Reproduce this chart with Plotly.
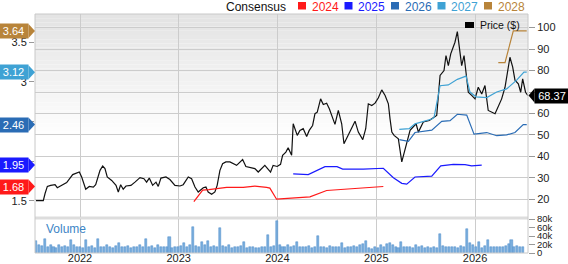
import pandas as pd
import plotly.graph_objects as go

# ---------------- data ----------------
price_t = [2021.554, 2021.628, 2021.646, 2021.669, 2021.703, 2021.747, 2021.770, 2021.815, 2021.865, 2021.926,
           2021.949, 2021.993, 2022.017, 2022.058, 2022.094, 2022.135, 2022.159, 2022.203, 2022.230, 2022.253,
           2022.276, 2022.321, 2022.365, 2022.388, 2022.412, 2022.438, 2022.466, 2022.516, 2022.557, 2022.608,
           2022.648, 2022.675, 2022.702, 2022.736, 2022.770, 2022.793, 2022.820, 2022.871, 2022.911, 2022.962,
           2023.013, 2023.046, 2023.097, 2023.131, 2023.165, 2023.198, 2023.249, 2023.276, 2023.299, 2023.334,
           2023.367, 2023.390, 2023.418, 2023.445, 2023.478, 2023.519, 2023.587, 2023.620, 2023.648, 2023.681,
           2023.772, 2023.806, 2023.873, 2023.931, 2023.957, 2023.998, 2024.032, 2024.053, 2024.086, 2024.109,
           2024.144, 2024.160, 2024.201, 2024.228, 2024.261, 2024.296, 2024.322, 2024.356, 2024.380, 2024.403,
           2024.437, 2024.464, 2024.498, 2024.525, 2024.559, 2024.582, 2024.616, 2024.650, 2024.673, 2024.707,
           2024.785, 2024.818, 2024.863, 2024.893, 2024.919, 2024.954, 2024.987, 2025.021, 2025.055, 2025.089,
           2025.122, 2025.139, 2025.157, 2025.180, 2025.223, 2025.258, 2025.291, 2025.342, 2025.403, 2025.426,
           2025.476, 2025.537, 2025.562, 2025.612, 2025.646, 2025.686, 2025.706, 2025.730, 2025.754, 2025.797,
           2025.821, 2025.841, 2025.865, 2025.889, 2025.909, 2025.932, 2025.966, 2026.000, 2026.033, 2026.068,
           2026.101, 2026.134, 2026.203, 2026.270, 2026.304, 2026.327, 2026.354, 2026.382, 2026.405, 2026.439,
           2026.463, 2026.483, 2026.512, 2026.535]
price_v = [19.4, 19.4, 22.7, 26.0, 26.5, 26.8, 25.4, 26.5, 27.8, 31.5,
           32.0, 32.7, 30.4, 24.7, 26.0, 25.7, 26.8, 33.5, 35.5, 34.3,
           30.4, 28.8, 26.5, 23.4, 26.8, 24.7, 26.2, 26.5, 28.0, 30.1,
           29.6, 28.0, 29.9, 26.5, 28.0, 26.0, 29.9, 30.4, 29.2, 26.5,
           26.2, 26.8, 30.4, 29.6, 25.7, 23.4, 25.4, 25.7, 23.4, 22.3,
           23.4, 26.5, 33.5, 36.6, 37.4, 37.4, 35.8, 37.4, 38.5, 35.3,
           34.3, 32.7, 35.8, 32.7, 35.8, 35.3, 36.3, 40.5, 42.0, 44.0,
           40.5, 55.2, 49.8, 52.1, 52.9, 49.3, 52.1, 54.4, 59.9, 60.6,
           66.8, 64.2, 64.8, 62.2, 57.5, 54.9, 61.4, 55.2, 45.9, 49.3,
           56.4, 51.3, 47.8, 52.9, 64.5, 63.7, 64.8, 67.3, 71.0, 68.4,
           64.5, 57.5, 51.3, 49.8, 48.2, 37.4, 42.8, 52.1, 55.2, 51.3,
           56.0, 56.7, 57.5, 59.1, 77.7, 80.0, 87.0, 82.3, 87.8, 93.2,
           98.1, 91.6, 82.3, 87.0, 78.0, 69.9, 68.4, 66.8, 72.2, 69.1,
           73.0, 61.4, 59.9, 66.8, 72.2, 78.4, 86.2, 81.6, 75.5, 73.8,
           69.9, 76.1, 69.9, 68.37]

est_2024_t = [2023.154, 2023.243, 2023.306, 2023.486, 2023.654, 2023.772, 2023.891, 2023.924, 2023.992,
              2024.127, 2024.329, 2024.498, 2024.734, 2024.903, 2024.954, 2025.071]
est_2024_v = [1.49, 1.635, 1.64, 1.67, 1.67, 1.686, 1.67, 1.66, 1.52,
              1.53, 1.55, 1.63, 1.65, 1.66, 1.67, 1.68]
est_2025_t = [2024.160, 2024.312, 2024.481, 2024.603, 2024.660, 2024.869, 2025.071, 2025.173, 2025.258,
              2025.308, 2025.392, 2025.562, 2025.653, 2025.780, 2025.899, 2025.966, 2026.068]
est_2025_v = [1.838, 1.83, 1.93, 1.93, 1.90, 1.90, 1.91, 1.79, 1.72,
              1.71, 1.80, 1.81, 1.94, 1.96, 1.955, 1.94, 1.95]
est_2026_t = [2025.233, 2025.325, 2025.392, 2025.562, 2025.663, 2025.747, 2025.821, 2025.916, 2025.990,
              2026.119, 2026.220, 2026.321, 2026.405, 2026.489, 2026.524]
est_2026_v = [2.27, 2.25, 2.36, 2.39, 2.50, 2.51, 2.59, 2.58, 2.34,
              2.36, 2.32, 2.33, 2.36, 2.46, 2.46]
est_2027_t = [2025.233, 2025.335, 2025.392, 2025.562, 2025.585, 2025.628, 2025.646, 2025.730, 2025.821,
              2025.909, 2025.949, 2026.010, 2026.119, 2026.220, 2026.321, 2026.422, 2026.496, 2026.524]
est_2027_v = [2.40, 2.41, 2.47, 2.53, 2.55, 2.83, 2.95, 2.96, 3.03,
              3.07, 2.87, 2.81, 2.80, 2.87, 2.91, 3.02, 3.12, 3.12]
est_2028_t = [2026.236, 2026.304, 2026.388, 2026.524]
est_2028_v = [3.24, 3.24, 3.64, 3.64]

volume_start = "2021-07-21"
volume_k = [28, 20, 16, 32, 15, 20, 14, 12, 18, 13, 16, 14, 30, 18, 13, 15, 12, 30, 14, 16,
            12, 33, 15, 14, 18, 13, 12, 16, 24, 14, 13, 17, 12, 15, 14, 20, 13, 34, 14, 16,
            12, 18, 14, 13, 15, 38, 12, 14, 13, 16, 24, 15, 18, 62, 16, 14, 25, 18, 28, 15,
            17, 13, 58, 16, 14, 18, 12, 15, 13, 16, 26, 12, 14, 13, 12, 11, 14, 13, 42, 15,
            16, 76, 18, 15, 14, 20, 13, 16, 25, 14, 15, 13, 16, 12, 14, 40, 15, 13, 12, 16,
            14, 13, 15, 24, 12, 14, 13, 16, 15, 18, 22, 28, 12, 10, 14, 12, 20, 15, 22, 24,
            18, 14, 12, 26, 14, 13, 15, 12, 18, 13, 16, 12, 15, 11, 14, 12, 44, 16, 14, 15,
            13, 14, 12, 16, 14, 56, 24, 20, 14, 27, 12, 16, 30, 15, 13, 14, 15, 13, 16, 22,
            30, 15, 16, 14, 13]

years = [2022, 2023, 2024, 2025, 2026]
consensus_years = ["2024", "2025", "2026", "2027", "2028"]
price_ticks = [20, 30, 40, 50, 60, 70, 80, 90, 100]
eps_ticks = [1.5, 2, 2.5, 3, 3.5]
vol_ticks_k = [0, 20, 40, 60, 80]

# ---------------- helpers ----------------
def to_date(t):
    y = int(t)
    start = pd.Timestamp(year=y, month=1, day=1)
    ndays = (pd.Timestamp(year=y + 1, month=1, day=1) - start).days
    return start + pd.Timedelta(days=(t - y) * ndays)

def dates(ts):
    return [to_date(t) for t in ts]

W, H = 568, 264
L, R, T, B = 35, 40, 14, 11
PW, PH = W - L - R, H - T - B

def px(x):
    return (x - L) / PW

def py(y):
    return (H - B - y) / PH

est_colors = ["#ff1a1a", "#1a1aff", "#2a6cb5", "#3fa2d4", "#b8843a"]
est_series = [(est_2024_t, est_2024_v), (est_2025_t, est_2025_v), (est_2026_t, est_2026_v),
              (est_2027_t, est_2027_v), (est_2028_t, est_2028_v)]

fig = go.Figure()

# volume
vol_dates = pd.date_range(volume_start, periods=len(volume_k), freq="11D")
fig.add_trace(go.Bar(x=vol_dates, y=[v * 1000 for v in volume_k], xaxis="x2", yaxis="y3",
                     marker=dict(color="#7aaedd", line=dict(color="#4a89c8", width=0.5)),
                     width=7.5 * 24 * 3600 * 1000, showlegend=False, hoverinfo="skip"))

# price
fig.add_trace(go.Scatter(x=dates(price_t), y=price_v, mode="lines", xaxis="x", yaxis="y",
                         line=dict(color="#111111", width=1.2), showlegend=False))

# estimates
for (tt, vv), c in zip(est_series, est_colors):
    fig.add_trace(go.Scatter(x=dates(tt), y=vv, mode="lines", xaxis="x", yaxis="y2",
                             line=dict(color=c, width=1.2), showlegend=False))

xr = [to_date(2021.544), to_date(2026.537)]
ytick_dates = [pd.Timestamp(year=y, month=1, day=1) for y in years]
price_dom = [py(217), 1]
vol_dom = [0, py(219)]

font = "Liberation Sans, Arial, sans-serif"
grid = "#cccccc"
last = price_v[-1]
# the price flag covers the tick label closest to the last price
price_ticktext = ["" if abs(v - last) < 5 else str(v) for v in price_ticks]

fig.update_layout(
    width=W, height=H, margin=dict(l=L, r=R, t=T, b=B, autoexpand=False),
    paper_bgcolor="white", plot_bgcolor="rgba(0,0,0,0)",
    font=dict(family=font, size=11, color="#222222"),
    bargap=0,
    xaxis=dict(domain=[0, 1], range=xr, anchor="y", tickvals=ytick_dates, showticklabels=False,
               showgrid=True, gridcolor=grid, gridwidth=1, zeroline=False, ticks="", automargin=False),
    xaxis2=dict(domain=[0, 1], range=xr, anchor="y3", matches="x", tickvals=ytick_dates,
                ticktext=[str(y) for y in years], showgrid=True, gridcolor=grid, ticks="",
                tickfont=dict(size=11, color="#222222"), automargin=False, ticklabelstandoff=-3),
    yaxis=dict(domain=price_dom, range=[11.75, 106.35], side="right", anchor="x",
               tickvals=price_ticks, ticktext=price_ticktext, showgrid=True, gridcolor=grid,
               zeroline=False, ticks="outside", ticklen=6, tickcolor="#999999", automargin=False),
    yaxis2=dict(overlaying="y", side="left", range=[1.296, 3.853], anchor="x",
                tickvals=eps_ticks, ticktext=["1.5", "", "", "3", "3.5"],
                showgrid=False, zeroline=False, ticks="outside", ticklen=5, tickcolor="#999999",
                automargin=False),
    yaxis3=dict(domain=vol_dom, range=[0, 80000], side="right", anchor="x2",
                tickvals=[v * 1000 for v in vol_ticks_k],
                ticktext=[("%dk" % v) if v else "0" for v in vol_ticks_k],
                showgrid=False, zeroline=False, ticks="outside", ticklen=6, tickcolor="#999999",
                tickfont=dict(size=9.5), automargin=False),
)

shapes = []
# gradient background in price pane
n = 30
top_y, bot_y = 14, 140
for i in range(n):
    y0 = top_y + (bot_y - top_y) * i / n
    y1 = top_y + (bot_y - top_y) * (i + 1) / n
    g = int(228 + (255 - 228) * (i / (n - 1)))
    shapes.append(dict(type="rect", xref="paper", yref="paper", x0=0, x1=1, y0=py(y1), y1=py(y0),
                       fillcolor=f"rgb({g},{g},{g})", line=dict(width=0), layer="below"))
# separator band
shapes.append(dict(type="rect", xref="paper", yref="paper", x0=0, x1=1, y0=py(219.5), y1=py(216.5),
                   fillcolor="#dddddd", line=dict(width=0), layer="below"))
# border
shapes.append(dict(type="rect", xref="paper", yref="paper", x0=0, x1=1, y0=0, y1=1,
                   line=dict(color="#c8c8c8", width=1), fillcolor="rgba(0,0,0,0)"))

annotations = []
# left flags
for (tt, vv), c in zip(est_series, est_colors):
    val = vv[-1]
    annotations.append(dict(x=0, xref="paper", y=val, yref="y2", xanchor="right", yanchor="middle",
                            xshift=-6, text=f"{val:.2f}", showarrow=False, bgcolor=c,
                            width=27, height=12, borderpad=1,
                            font=dict(color="white", size=11, family=font)))
    shapes.append(dict(type="path", xref="paper", xsizemode="pixel", xanchor=0,
                       yref="y2", ysizemode="pixel", yanchor=val,
                       path="M -6.5,-7 L 0,0 L -6.5,7 Z", fillcolor=c, line=dict(width=0)))
# right price flag
annotations.append(dict(x=1, xref="paper", y=last, yref="y", xanchor="left", yanchor="middle",
                        xshift=6, text=f"{last:.2f}", showarrow=False, bgcolor="#000000",
                        width=32, height=12, borderpad=1,
                        font=dict(color="white", size=11, family=font)))
shapes.append(dict(type="path", xref="paper", xsizemode="pixel", xanchor=1,
                   yref="y", ysizemode="pixel", yanchor=last,
                   path="M 6.5,-7 L 0.5,0 L 6.5,7 Z", fillcolor="#000000", line=dict(width=0)))

# top legend
leg_y = py(6.8)
annotations.append(dict(x=px(224), xref="paper", y=leg_y, yref="paper", xanchor="left", yanchor="middle",
                        text="Consensus", showarrow=False, font=dict(size=12, color="#111111")))
for i, (lab, c) in enumerate(zip(consensus_years, est_colors)):
    sx = 298 + 46.5 * i
    shapes.append(dict(type="rect", xref="paper", yref="paper", x0=px(sx), x1=px(sx + 8),
                       y0=py(9.5), y1=py(2), fillcolor=c, line=dict(width=0)))
    annotations.append(dict(x=px(sx + 11.5), xref="paper", y=leg_y, yref="paper", xanchor="left",
                            yanchor="middle", text=lab, showarrow=False, font=dict(size=12, color=c)))

# price legend
shapes.append(dict(type="rect", xref="paper", yref="paper", x0=px(465), x1=px(474),
                   y0=py(28), y1=py(22), fillcolor="#000000", line=dict(width=0)))
annotations.append(dict(x=px(478), xref="paper", y=py(25), yref="paper", xanchor="left", yanchor="middle",
                        text="Price ($)", showarrow=False, font=dict(size=10.5, color="#111111")))
# volume label
annotations.append(dict(x=px(44), xref="paper", y=py(229), yref="paper", xanchor="left", yanchor="middle",
                        text="Volume", showarrow=False, font=dict(size=12, color="#3d85c6")))

fig.update_layout(shapes=shapes, annotations=annotations)
fig.write_html("out.html")
